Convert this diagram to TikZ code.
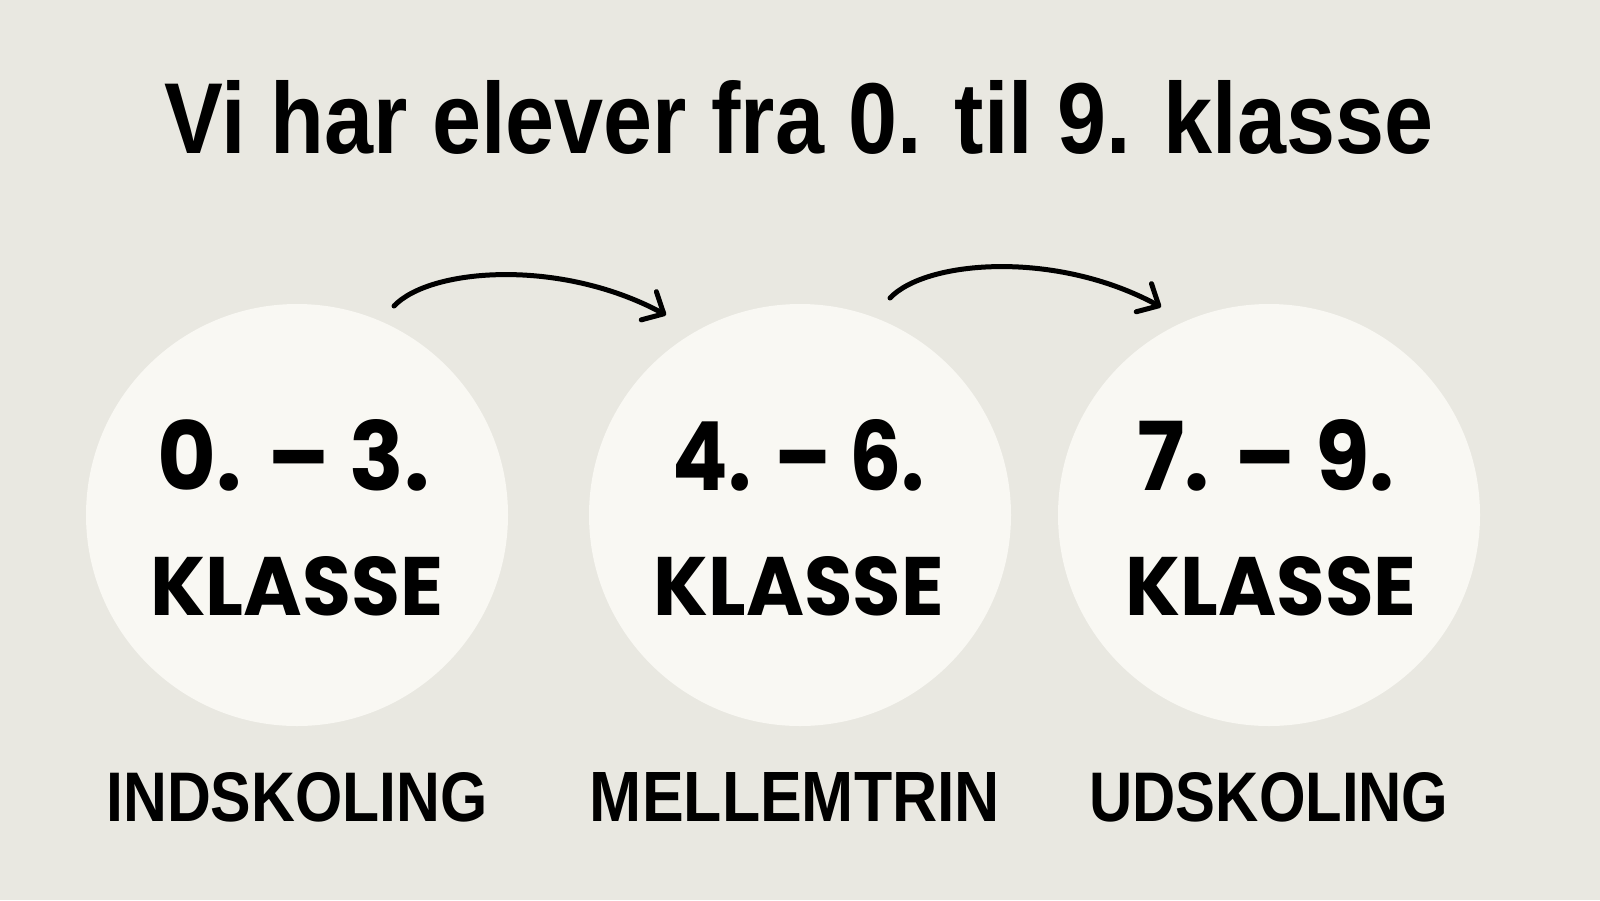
\documentclass[tikz,border=0pt]{standalone}
\usepackage{fontspec}
\setmainfont{Liberation Sans}
\newfontfamily\hand{Poppins}
\usetikzlibrary{arrows.meta}
\definecolor{bgcol}{HTML}{E9E8E1}
\definecolor{discfill}{HTML}{F9F8F3}
\tikzset{
  disc/.style={circle, fill=discfill, minimum size=422pt, inner sep=0pt},
  txt/.style={anchor=base, inner sep=0pt, text=black},
  arr/.style={line width=5pt, line cap=round, -{Straight Barb[length=17pt,width=32pt,line width=5pt,round]}}
}
\begin{document}
\begin{tikzpicture}[x=1pt,y=-1pt]
\fill[bgcol] (0,0) rectangle (1600,900);
\useasboundingbox (0,0) rectangle (1600,900);
\node[txt] (title) at (799,153) {\resizebox{1268pt}{73pt}{\bfseries Vi har elever fra 0. til 9. klasse}};
\node[disc] (c1) at (297,515) {};
\node[disc] (c2) at (800,515) {};
\node[disc] (c3) at (1269,515) {};
\node[txt] (n1) at (294,490) {\resizebox{272pt}{71pt}{\hand\bfseries 0. – 3.}};
\node[txt] (k1) at (297,615) {\resizebox{293pt}{59pt}{\hand\bfseries KLASSE}};
\node[txt] (n2) at (799,490) {\resizebox{252pt}{71pt}{\hand\bfseries 4. – 6.}};
\node[txt] (k2) at (799,615) {\resizebox{290pt}{59pt}{\hand\bfseries KLASSE}};
\node[txt] (n3) at (1266,490) {\resizebox{257pt}{71pt}{\hand\bfseries 7. – 9.}};
\node[txt] (k3) at (1271,615) {\resizebox{291pt}{59pt}{\hand\bfseries KLASSE}};
\node[txt] (l1) at (297,821) {\resizebox{381pt}{49pt}{\bfseries INDSKOLING}};
\node[txt] (l2) at (795,821) {\resizebox{410pt}{49pt}{\bfseries MELLEMTRIN}};
\node[txt] (l3) at (1269,821) {\resizebox{359pt}{49pt}{\bfseries UDSKOLING}};
\coordinate (a1s) at (394,306);
\coordinate (a1e) at (666,315);
\coordinate (a2s) at (890,298);
\coordinate (a2e) at (1161,307);
\draw[arr] (a1s) .. controls (430,268) and (560,258) .. (a1e);
\draw[arr] (a2s) .. controls (926,260) and (1056,250) .. (a2e);
\end{tikzpicture}
\end{document}
